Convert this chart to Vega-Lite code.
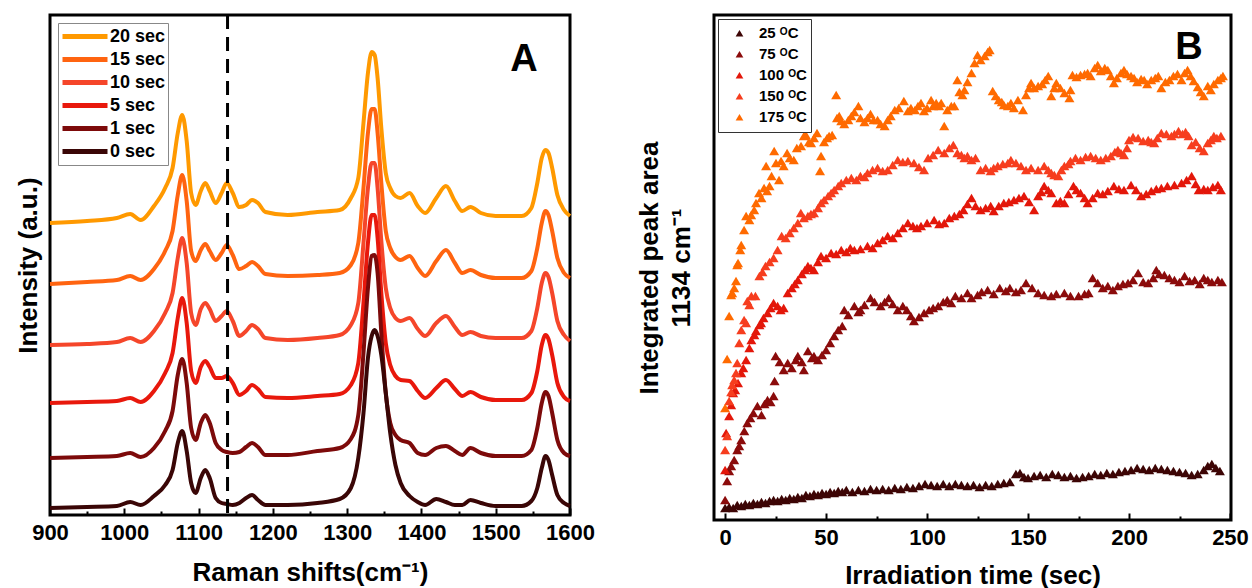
{
"$schema": "https://vega.github.io/schema/vega-lite/v6.json",
"background": "white",
"padding": {"left": 13, "top": 12, "right": 5, "bottom": 0},
"spacing": 38,
"resolve": {"scale": {"color": "independent"}, "legend": {"color": "independent"}},
"config": {
  "font": "Liberation Sans",
  "view": {"stroke": "black", "strokeWidth": 3},
  "axis": {"domain": false, "grid": false, "labelFlush": false, "labelFont": "Liberation Sans", "labelFontWeight": "bold", "labelFontSize": 22, "labelColor": "black", "titleFont": "Liberation Sans", "titleFontWeight": "bold", "titleFontSize": 26, "titleColor": "black", "tickColor": "black", "tickWidth": 2}
},
"datasets": {
"spec": [
{"s":"20 sec","w":900,"i":292},{"s":"20 sec","w":950,"i":294},{"s":"20 sec","w":990,"i":297},{"s":"20 sec","w":1008,"i":301},{"s":"20 sec","w":1022,"i":295},{"s":"20 sec","w":1040,"i":309},{"s":"20 sec","w":1055,"i":327},{"s":"20 sec","w":1065,"i":347},{"s":"20 sec","w":1072,"i":382},{"s":"20 sec","w":1078,"i":400},{"s":"20 sec","w":1084,"i":374},{"s":"20 sec","w":1090,"i":322},{"s":"20 sec","w":1096,"i":310},{"s":"20 sec","w":1103,"i":324},{"s":"20 sec","w":1109,"i":332},{"s":"20 sec","w":1115,"i":324},{"s":"20 sec","w":1123,"i":312},{"s":"20 sec","w":1131,"i":322},{"s":"20 sec","w":1138,"i":332},{"s":"20 sec","w":1146,"i":322},{"s":"20 sec","w":1155,"i":308},{"s":"20 sec","w":1164,"i":310},{"s":"20 sec","w":1172,"i":315},{"s":"20 sec","w":1180,"i":312},{"s":"20 sec","w":1190,"i":303},{"s":"20 sec","w":1220,"i":300},{"s":"20 sec","w":1260,"i":303},{"s":"20 sec","w":1290,"i":305},{"s":"20 sec","w":1305,"i":317},{"s":"20 sec","w":1315,"i":337},{"s":"20 sec","w":1322,"i":392},{"s":"20 sec","w":1328,"i":442},{"s":"20 sec","w":1333,"i":463},{"s":"20 sec","w":1337,"i":460},{"s":"20 sec","w":1341,"i":437},{"s":"20 sec","w":1346,"i":387},{"s":"20 sec","w":1352,"i":342},{"s":"20 sec","w":1358,"i":327},{"s":"20 sec","w":1365,"i":319},{"s":"20 sec","w":1372,"i":317},{"s":"20 sec","w":1384,"i":322},{"s":"20 sec","w":1395,"i":309},{"s":"20 sec","w":1405,"i":302},{"s":"20 sec","w":1420,"i":317},{"s":"20 sec","w":1433,"i":329},{"s":"20 sec","w":1445,"i":314},{"s":"20 sec","w":1455,"i":304},{"s":"20 sec","w":1466,"i":308},{"s":"20 sec","w":1480,"i":302},{"s":"20 sec","w":1500,"i":299},{"s":"20 sec","w":1535,"i":299},{"s":"20 sec","w":1548,"i":307},{"s":"20 sec","w":1556,"i":332},{"s":"20 sec","w":1562,"i":357},{"s":"20 sec","w":1567,"i":365},{"s":"20 sec","w":1571,"i":362},{"s":"20 sec","w":1576,"i":347},{"s":"20 sec","w":1583,"i":320},{"s":"20 sec","w":1592,"i":305},{"s":"20 sec","w":1600,"i":299},
{"s":"15 sec","w":900,"i":231},{"s":"15 sec","w":950,"i":233},{"s":"15 sec","w":990,"i":235},{"s":"15 sec","w":1008,"i":239},{"s":"15 sec","w":1022,"i":235},{"s":"15 sec","w":1040,"i":246},{"s":"15 sec","w":1055,"i":264},{"s":"15 sec","w":1065,"i":284},{"s":"15 sec","w":1072,"i":320},{"s":"15 sec","w":1078,"i":340},{"s":"15 sec","w":1084,"i":314},{"s":"15 sec","w":1090,"i":264},{"s":"15 sec","w":1096,"i":254},{"s":"15 sec","w":1103,"i":265},{"s":"15 sec","w":1109,"i":271},{"s":"15 sec","w":1115,"i":264},{"s":"15 sec","w":1123,"i":255},{"s":"15 sec","w":1131,"i":262},{"s":"15 sec","w":1138,"i":270},{"s":"15 sec","w":1146,"i":260},{"s":"15 sec","w":1155,"i":246},{"s":"15 sec","w":1164,"i":249},{"s":"15 sec","w":1172,"i":253},{"s":"15 sec","w":1180,"i":249},{"s":"15 sec","w":1190,"i":241},{"s":"15 sec","w":1220,"i":239},{"s":"15 sec","w":1260,"i":240},{"s":"15 sec","w":1290,"i":242},{"s":"15 sec","w":1305,"i":250},{"s":"15 sec","w":1315,"i":272},{"s":"15 sec","w":1322,"i":327},{"s":"15 sec","w":1328,"i":382},{"s":"15 sec","w":1333,"i":406},{"s":"15 sec","w":1337,"i":406},{"s":"15 sec","w":1341,"i":382},{"s":"15 sec","w":1346,"i":332},{"s":"15 sec","w":1352,"i":284},{"s":"15 sec","w":1358,"i":267},{"s":"15 sec","w":1365,"i":258},{"s":"15 sec","w":1372,"i":255},{"s":"15 sec","w":1384,"i":259},{"s":"15 sec","w":1395,"i":247},{"s":"15 sec","w":1405,"i":239},{"s":"15 sec","w":1420,"i":254},{"s":"15 sec","w":1433,"i":265},{"s":"15 sec","w":1445,"i":252},{"s":"15 sec","w":1455,"i":242},{"s":"15 sec","w":1466,"i":245},{"s":"15 sec","w":1480,"i":240},{"s":"15 sec","w":1500,"i":237},{"s":"15 sec","w":1535,"i":237},{"s":"15 sec","w":1548,"i":244},{"s":"15 sec","w":1556,"i":267},{"s":"15 sec","w":1562,"i":292},{"s":"15 sec","w":1567,"i":304},{"s":"15 sec","w":1571,"i":300},{"s":"15 sec","w":1576,"i":284},{"s":"15 sec","w":1583,"i":257},{"s":"15 sec","w":1592,"i":242},{"s":"15 sec","w":1600,"i":237},
{"s":"10 sec","w":900,"i":170},{"s":"10 sec","w":950,"i":171},{"s":"10 sec","w":990,"i":173},{"s":"10 sec","w":1008,"i":177},{"s":"10 sec","w":1022,"i":173},{"s":"10 sec","w":1040,"i":184},{"s":"10 sec","w":1055,"i":202},{"s":"10 sec","w":1065,"i":222},{"s":"10 sec","w":1072,"i":257},{"s":"10 sec","w":1078,"i":277},{"s":"10 sec","w":1084,"i":252},{"s":"10 sec","w":1090,"i":202},{"s":"10 sec","w":1096,"i":190},{"s":"10 sec","w":1103,"i":206},{"s":"10 sec","w":1109,"i":212},{"s":"10 sec","w":1115,"i":206},{"s":"10 sec","w":1123,"i":194},{"s":"10 sec","w":1131,"i":199},{"s":"10 sec","w":1138,"i":204},{"s":"10 sec","w":1146,"i":194},{"s":"10 sec","w":1155,"i":179},{"s":"10 sec","w":1164,"i":184},{"s":"10 sec","w":1172,"i":190},{"s":"10 sec","w":1180,"i":186},{"s":"10 sec","w":1190,"i":177},{"s":"10 sec","w":1220,"i":175},{"s":"10 sec","w":1260,"i":177},{"s":"10 sec","w":1290,"i":180},{"s":"10 sec","w":1305,"i":190},{"s":"10 sec","w":1315,"i":212},{"s":"10 sec","w":1322,"i":272},{"s":"10 sec","w":1328,"i":327},{"s":"10 sec","w":1333,"i":352},{"s":"10 sec","w":1337,"i":352},{"s":"10 sec","w":1341,"i":327},{"s":"10 sec","w":1346,"i":274},{"s":"10 sec","w":1352,"i":227},{"s":"10 sec","w":1358,"i":207},{"s":"10 sec","w":1365,"i":197},{"s":"10 sec","w":1372,"i":194},{"s":"10 sec","w":1384,"i":197},{"s":"10 sec","w":1395,"i":186},{"s":"10 sec","w":1405,"i":179},{"s":"10 sec","w":1420,"i":192},{"s":"10 sec","w":1433,"i":199},{"s":"10 sec","w":1445,"i":188},{"s":"10 sec","w":1455,"i":180},{"s":"10 sec","w":1466,"i":183},{"s":"10 sec","w":1480,"i":179},{"s":"10 sec","w":1500,"i":177},{"s":"10 sec","w":1535,"i":177},{"s":"10 sec","w":1548,"i":184},{"s":"10 sec","w":1556,"i":207},{"s":"10 sec","w":1562,"i":232},{"s":"10 sec","w":1567,"i":242},{"s":"10 sec","w":1571,"i":238},{"s":"10 sec","w":1576,"i":222},{"s":"10 sec","w":1583,"i":194},{"s":"10 sec","w":1592,"i":180},{"s":"10 sec","w":1600,"i":174},
{"s":"5 sec","w":900,"i":112},{"s":"5 sec","w":950,"i":113},{"s":"5 sec","w":990,"i":114},{"s":"5 sec","w":1008,"i":117},{"s":"5 sec","w":1022,"i":113},{"s":"5 sec","w":1040,"i":124},{"s":"5 sec","w":1055,"i":142},{"s":"5 sec","w":1065,"i":162},{"s":"5 sec","w":1072,"i":197},{"s":"5 sec","w":1078,"i":217},{"s":"5 sec","w":1084,"i":192},{"s":"5 sec","w":1090,"i":144},{"s":"5 sec","w":1096,"i":132},{"s":"5 sec","w":1103,"i":148},{"s":"5 sec","w":1109,"i":154},{"s":"5 sec","w":1115,"i":148},{"s":"5 sec","w":1123,"i":137},{"s":"5 sec","w":1131,"i":137},{"s":"5 sec","w":1138,"i":139},{"s":"5 sec","w":1146,"i":132},{"s":"5 sec","w":1155,"i":120},{"s":"5 sec","w":1164,"i":124},{"s":"5 sec","w":1172,"i":130},{"s":"5 sec","w":1180,"i":126},{"s":"5 sec","w":1190,"i":118},{"s":"5 sec","w":1220,"i":117},{"s":"5 sec","w":1260,"i":119},{"s":"5 sec","w":1290,"i":121},{"s":"5 sec","w":1305,"i":130},{"s":"5 sec","w":1315,"i":152},{"s":"5 sec","w":1322,"i":212},{"s":"5 sec","w":1328,"i":272},{"s":"5 sec","w":1333,"i":300},{"s":"5 sec","w":1337,"i":300},{"s":"5 sec","w":1341,"i":277},{"s":"5 sec","w":1346,"i":222},{"s":"5 sec","w":1352,"i":172},{"s":"5 sec","w":1358,"i":150},{"s":"5 sec","w":1365,"i":139},{"s":"5 sec","w":1372,"i":135},{"s":"5 sec","w":1384,"i":134},{"s":"5 sec","w":1395,"i":124},{"s":"5 sec","w":1405,"i":117},{"s":"5 sec","w":1420,"i":127},{"s":"5 sec","w":1433,"i":135},{"s":"5 sec","w":1445,"i":126},{"s":"5 sec","w":1455,"i":119},{"s":"5 sec","w":1466,"i":123},{"s":"5 sec","w":1480,"i":118},{"s":"5 sec","w":1500,"i":115},{"s":"5 sec","w":1535,"i":115},{"s":"5 sec","w":1548,"i":122},{"s":"5 sec","w":1556,"i":144},{"s":"5 sec","w":1562,"i":170},{"s":"5 sec","w":1567,"i":180},{"s":"5 sec","w":1571,"i":176},{"s":"5 sec","w":1576,"i":160},{"s":"5 sec","w":1583,"i":132},{"s":"5 sec","w":1592,"i":118},{"s":"5 sec","w":1600,"i":114},
{"s":"1 sec","w":900,"i":57},{"s":"1 sec","w":950,"i":58},{"s":"1 sec","w":990,"i":59},{"s":"1 sec","w":1008,"i":62},{"s":"1 sec","w":1022,"i":58},{"s":"1 sec","w":1040,"i":67},{"s":"1 sec","w":1055,"i":84},{"s":"1 sec","w":1065,"i":104},{"s":"1 sec","w":1072,"i":140},{"s":"1 sec","w":1078,"i":156},{"s":"1 sec","w":1084,"i":132},{"s":"1 sec","w":1090,"i":87},{"s":"1 sec","w":1096,"i":75},{"s":"1 sec","w":1103,"i":92},{"s":"1 sec","w":1109,"i":100},{"s":"1 sec","w":1115,"i":92},{"s":"1 sec","w":1123,"i":72},{"s":"1 sec","w":1131,"i":65},{"s":"1 sec","w":1138,"i":63},{"s":"1 sec","w":1146,"i":62},{"s":"1 sec","w":1155,"i":63},{"s":"1 sec","w":1164,"i":68},{"s":"1 sec","w":1172,"i":72},{"s":"1 sec","w":1180,"i":68},{"s":"1 sec","w":1190,"i":60},{"s":"1 sec","w":1220,"i":60},{"s":"1 sec","w":1260,"i":64},{"s":"1 sec","w":1290,"i":67},{"s":"1 sec","w":1305,"i":76},{"s":"1 sec","w":1315,"i":100},{"s":"1 sec","w":1322,"i":162},{"s":"1 sec","w":1328,"i":227},{"s":"1 sec","w":1333,"i":259},{"s":"1 sec","w":1337,"i":260},{"s":"1 sec","w":1341,"i":242},{"s":"1 sec","w":1346,"i":182},{"s":"1 sec","w":1352,"i":122},{"s":"1 sec","w":1358,"i":92},{"s":"1 sec","w":1365,"i":80},{"s":"1 sec","w":1372,"i":75},{"s":"1 sec","w":1384,"i":72},{"s":"1 sec","w":1395,"i":62},{"s":"1 sec","w":1405,"i":60},{"s":"1 sec","w":1420,"i":67},{"s":"1 sec","w":1433,"i":69},{"s":"1 sec","w":1445,"i":64},{"s":"1 sec","w":1455,"i":60},{"s":"1 sec","w":1466,"i":67},{"s":"1 sec","w":1480,"i":62},{"s":"1 sec","w":1500,"i":59},{"s":"1 sec","w":1535,"i":59},{"s":"1 sec","w":1548,"i":65},{"s":"1 sec","w":1556,"i":87},{"s":"1 sec","w":1562,"i":112},{"s":"1 sec","w":1567,"i":123},{"s":"1 sec","w":1571,"i":119},{"s":"1 sec","w":1576,"i":102},{"s":"1 sec","w":1583,"i":75},{"s":"1 sec","w":1592,"i":62},{"s":"1 sec","w":1600,"i":59},
{"s":"0 sec","w":900,"i":7},{"s":"0 sec","w":950,"i":8},{"s":"0 sec","w":990,"i":9},{"s":"0 sec","w":1008,"i":13},{"s":"0 sec","w":1022,"i":10},{"s":"0 sec","w":1040,"i":19},{"s":"0 sec","w":1055,"i":30},{"s":"0 sec","w":1065,"i":45},{"s":"0 sec","w":1072,"i":72},{"s":"0 sec","w":1078,"i":84},{"s":"0 sec","w":1084,"i":64},{"s":"0 sec","w":1090,"i":32},{"s":"0 sec","w":1096,"i":22},{"s":"0 sec","w":1103,"i":37},{"s":"0 sec","w":1109,"i":45},{"s":"0 sec","w":1115,"i":37},{"s":"0 sec","w":1123,"i":17},{"s":"0 sec","w":1131,"i":12},{"s":"0 sec","w":1138,"i":11},{"s":"0 sec","w":1146,"i":10},{"s":"0 sec","w":1155,"i":12},{"s":"0 sec","w":1164,"i":17},{"s":"0 sec","w":1172,"i":20},{"s":"0 sec","w":1180,"i":15},{"s":"0 sec","w":1190,"i":10},{"s":"0 sec","w":1220,"i":10},{"s":"0 sec","w":1260,"i":12},{"s":"0 sec","w":1290,"i":16},{"s":"0 sec","w":1305,"i":27},{"s":"0 sec","w":1315,"i":57},{"s":"0 sec","w":1322,"i":102},{"s":"0 sec","w":1328,"i":157},{"s":"0 sec","w":1333,"i":179},{"s":"0 sec","w":1337,"i":185},{"s":"0 sec","w":1341,"i":179},{"s":"0 sec","w":1346,"i":160},{"s":"0 sec","w":1352,"i":122},{"s":"0 sec","w":1358,"i":82},{"s":"0 sec","w":1365,"i":50},{"s":"0 sec","w":1372,"i":32},{"s":"0 sec","w":1384,"i":19},{"s":"0 sec","w":1395,"i":13},{"s":"0 sec","w":1405,"i":10},{"s":"0 sec","w":1420,"i":16},{"s":"0 sec","w":1433,"i":13},{"s":"0 sec","w":1445,"i":10},{"s":"0 sec","w":1455,"i":10},{"s":"0 sec","w":1466,"i":15},{"s":"0 sec","w":1480,"i":12},{"s":"0 sec","w":1500,"i":9},{"s":"0 sec","w":1535,"i":9},{"s":"0 sec","w":1548,"i":14},{"s":"0 sec","w":1556,"i":27},{"s":"0 sec","w":1562,"i":47},{"s":"0 sec","w":1567,"i":59},{"s":"0 sec","w":1571,"i":55},{"s":"0 sec","w":1576,"i":40},{"s":"0 sec","w":1583,"i":20},{"s":"0 sec","w":1592,"i":12},{"s":"0 sec","w":1600,"i":9}
],
"pts": [
{"s":"25 ᴼC","t":0,"v":12},{"s":"25 ᴼC","t":2,"v":13},{"s":"25 ᴼC","t":4,"v":12},{"s":"25 ᴼC","t":6,"v":15},{"s":"25 ᴼC","t":8,"v":14},{"s":"25 ᴼC","t":10,"v":16},{"s":"25 ᴼC","t":12,"v":15},{"s":"25 ᴼC","t":14,"v":17},{"s":"25 ᴼC","t":16,"v":16},{"s":"25 ᴼC","t":18,"v":18},{"s":"25 ᴼC","t":20,"v":17},{"s":"25 ᴼC","t":22,"v":19},{"s":"25 ᴼC","t":24,"v":20},{"s":"25 ᴼC","t":26,"v":19},{"s":"25 ᴼC","t":28,"v":21},{"s":"25 ᴼC","t":30,"v":20},{"s":"25 ᴼC","t":32,"v":22},{"s":"25 ᴼC","t":34,"v":21},{"s":"25 ᴼC","t":36,"v":23},{"s":"25 ᴼC","t":38,"v":22},{"s":"25 ᴼC","t":40,"v":25},{"s":"25 ᴼC","t":42,"v":24},{"s":"25 ᴼC","t":44,"v":26},{"s":"25 ᴼC","t":46,"v":25},{"s":"25 ᴼC","t":48,"v":27},{"s":"25 ᴼC","t":50,"v":26},{"s":"25 ᴼC","t":52,"v":28},{"s":"25 ᴼC","t":54,"v":27},{"s":"25 ᴼC","t":56,"v":29},{"s":"25 ᴼC","t":58,"v":28},{"s":"25 ᴼC","t":60,"v":30},{"s":"25 ᴼC","t":63,"v":28},{"s":"25 ᴼC","t":66,"v":30},{"s":"25 ᴼC","t":69,"v":29},{"s":"25 ᴼC","t":72,"v":31},{"s":"25 ᴼC","t":75,"v":30},{"s":"25 ᴼC","t":78,"v":31},{"s":"25 ᴼC","t":81,"v":30},{"s":"25 ᴼC","t":84,"v":32},{"s":"25 ᴼC","t":87,"v":31},{"s":"25 ᴼC","t":90,"v":33},{"s":"25 ᴼC","t":93,"v":32},{"s":"25 ᴼC","t":96,"v":34},{"s":"25 ᴼC","t":99,"v":36},{"s":"25 ᴼC","t":102,"v":35},{"s":"25 ᴼC","t":105,"v":34},{"s":"25 ᴼC","t":108,"v":36},{"s":"25 ᴼC","t":111,"v":34},{"s":"25 ᴼC","t":114,"v":36},{"s":"25 ᴼC","t":117,"v":35},{"s":"25 ᴼC","t":120,"v":34},{"s":"25 ᴼC","t":123,"v":35},{"s":"25 ᴼC","t":126,"v":33},{"s":"25 ᴼC","t":129,"v":35},{"s":"25 ᴼC","t":132,"v":34},{"s":"25 ᴼC","t":135,"v":36},{"s":"25 ᴼC","t":138,"v":37},{"s":"25 ᴼC","t":141,"v":38},{"s":"25 ᴼC","t":144,"v":46},{"s":"25 ᴼC","t":146,"v":47},{"s":"25 ᴼC","t":148,"v":43},{"s":"25 ᴼC","t":150,"v":42},{"s":"25 ᴼC","t":153,"v":44},{"s":"25 ᴼC","t":156,"v":45},{"s":"25 ᴼC","t":159,"v":43},{"s":"25 ᴼC","t":162,"v":46},{"s":"25 ᴼC","t":165,"v":45},{"s":"25 ᴼC","t":168,"v":43},{"s":"25 ᴼC","t":171,"v":44},{"s":"25 ᴼC","t":174,"v":42},{"s":"25 ᴼC","t":177,"v":43},{"s":"25 ᴼC","t":180,"v":44},{"s":"25 ᴼC","t":183,"v":46},{"s":"25 ᴼC","t":186,"v":45},{"s":"25 ᴼC","t":189,"v":47},{"s":"25 ᴼC","t":192,"v":46},{"s":"25 ᴼC","t":195,"v":48},{"s":"25 ᴼC","t":198,"v":49},{"s":"25 ᴼC","t":201,"v":50},{"s":"25 ᴼC","t":204,"v":52},{"s":"25 ᴼC","t":207,"v":51},{"s":"25 ᴼC","t":210,"v":50},{"s":"25 ᴼC","t":213,"v":52},{"s":"25 ᴼC","t":216,"v":51},{"s":"25 ᴼC","t":219,"v":50},{"s":"25 ᴼC","t":222,"v":49},{"s":"25 ᴼC","t":225,"v":48},{"s":"25 ᴼC","t":228,"v":47},{"s":"25 ᴼC","t":231,"v":45},{"s":"25 ᴼC","t":234,"v":46},{"s":"25 ᴼC","t":237,"v":50},{"s":"25 ᴼC","t":239,"v":54},{"s":"25 ᴼC","t":241,"v":56},{"s":"25 ᴼC","t":243,"v":52},{"s":"25 ᴼC","t":245,"v":49},
{"s":"75 ᴼC","t":0,"v":20},{"s":"75 ᴼC","t":1,"v":39},{"s":"75 ᴼC","t":2,"v":49},{"s":"75 ᴼC","t":3,"v":54},{"s":"75 ᴼC","t":4.5,"v":60},{"s":"75 ᴼC","t":6,"v":70},{"s":"75 ᴼC","t":7,"v":74},{"s":"75 ᴼC","t":8,"v":80},{"s":"75 ᴼC","t":9.5,"v":89},{"s":"75 ᴼC","t":11,"v":97},{"s":"75 ᴼC","t":12.5,"v":102},{"s":"75 ᴼC","t":14,"v":107},{"s":"75 ᴼC","t":16,"v":114},{"s":"75 ᴼC","t":18,"v":105},{"s":"75 ᴼC","t":19.5,"v":116},{"s":"75 ᴼC","t":21,"v":120},{"s":"75 ᴼC","t":22.5,"v":118},{"s":"75 ᴼC","t":24,"v":124},{"s":"75 ᴼC","t":24.5,"v":139},{"s":"75 ᴼC","t":25,"v":164},{"s":"75 ᴼC","t":27,"v":158},{"s":"75 ᴼC","t":29,"v":150},{"s":"75 ᴼC","t":31,"v":157},{"s":"75 ᴼC","t":33,"v":152},{"s":"75 ᴼC","t":35,"v":160},{"s":"75 ᴼC","t":36,"v":164},{"s":"75 ᴼC","t":38,"v":158},{"s":"75 ᴼC","t":39,"v":150},{"s":"75 ᴼC","t":41,"v":169},{"s":"75 ᴼC","t":43,"v":162},{"s":"75 ᴼC","t":44,"v":164},{"s":"75 ᴼC","t":46,"v":160},{"s":"75 ᴼC","t":48,"v":165},{"s":"75 ᴼC","t":50,"v":170},{"s":"75 ᴼC","t":52,"v":177},{"s":"75 ᴼC","t":54,"v":184},{"s":"75 ᴼC","t":56,"v":190},{"s":"75 ᴼC","t":58,"v":194},{"s":"75 ᴼC","t":59,"v":210},{"s":"75 ᴼC","t":61,"v":205},{"s":"75 ᴼC","t":64,"v":214},{"s":"75 ᴼC","t":66,"v":208},{"s":"75 ᴼC","t":67,"v":210},{"s":"75 ᴼC","t":69,"v":215},{"s":"75 ᴼC","t":72,"v":222},{"s":"75 ᴼC","t":74,"v":218},{"s":"75 ᴼC","t":77,"v":214},{"s":"75 ᴼC","t":79,"v":218},{"s":"75 ᴼC","t":81,"v":222},{"s":"75 ᴼC","t":83,"v":216},{"s":"75 ᴼC","t":85.5,"v":210},{"s":"75 ᴼC","t":88,"v":214},{"s":"75 ᴼC","t":90,"v":210},{"s":"75 ᴼC","t":92,"v":204},{"s":"75 ᴼC","t":93.5,"v":199},{"s":"75 ᴼC","t":96,"v":203},{"s":"75 ᴼC","t":98.5,"v":207},{"s":"75 ᴼC","t":101,"v":210},{"s":"75 ᴼC","t":103,"v":212},{"s":"75 ᴼC","t":105.5,"v":214},{"s":"75 ᴼC","t":108,"v":218},{"s":"75 ᴼC","t":110,"v":220},{"s":"75 ᴼC","t":112,"v":217},{"s":"75 ᴼC","t":114,"v":224},{"s":"75 ᴼC","t":117,"v":222},{"s":"75 ᴼC","t":120,"v":227},{"s":"75 ᴼC","t":122,"v":222},{"s":"75 ᴼC","t":125,"v":225},{"s":"75 ᴼC","t":127,"v":228},{"s":"75 ᴼC","t":130,"v":230},{"s":"75 ᴼC","t":133,"v":226},{"s":"75 ᴼC","t":136,"v":232},{"s":"75 ᴼC","t":139,"v":229},{"s":"75 ᴼC","t":141,"v":232},{"s":"75 ᴼC","t":144,"v":228},{"s":"75 ᴼC","t":146.5,"v":230},{"s":"75 ᴼC","t":149,"v":237},{"s":"75 ᴼC","t":152,"v":232},{"s":"75 ᴼC","t":155,"v":227},{"s":"75 ᴼC","t":158,"v":225},{"s":"75 ᴼC","t":161.5,"v":224},{"s":"75 ᴼC","t":164,"v":226},{"s":"75 ᴼC","t":168,"v":227},{"s":"75 ᴼC","t":171,"v":224},{"s":"75 ᴼC","t":175,"v":224},{"s":"75 ᴼC","t":178,"v":226},{"s":"75 ᴼC","t":180,"v":227},{"s":"75 ᴼC","t":182,"v":242},{"s":"75 ᴼC","t":184.5,"v":237},{"s":"75 ᴼC","t":187,"v":232},{"s":"75 ᴼC","t":189.5,"v":234},{"s":"75 ᴼC","t":192,"v":230},{"s":"75 ᴼC","t":194.5,"v":234},{"s":"75 ᴼC","t":197,"v":236},{"s":"75 ᴼC","t":199.5,"v":237},{"s":"75 ᴼC","t":202,"v":240},{"s":"75 ᴼC","t":204.5,"v":247},{"s":"75 ᴼC","t":207,"v":238},{"s":"75 ᴼC","t":209.5,"v":237},{"s":"75 ᴼC","t":212,"v":242},{"s":"75 ᴼC","t":213.5,"v":250},{"s":"75 ᴼC","t":215,"v":246},{"s":"75 ᴼC","t":217.5,"v":245},{"s":"75 ᴼC","t":220,"v":242},{"s":"75 ᴼC","t":222.5,"v":240},{"s":"75 ᴼC","t":225,"v":238},{"s":"75 ᴼC","t":227.5,"v":244},{"s":"75 ᴼC","t":230,"v":239},{"s":"75 ᴼC","t":232.5,"v":240},{"s":"75 ᴼC","t":235,"v":236},{"s":"75 ᴼC","t":237,"v":242},{"s":"75 ᴼC","t":239,"v":240},{"s":"75 ᴼC","t":241,"v":238},{"s":"75 ᴼC","t":244,"v":240},{"s":"75 ᴼC","t":246,"v":238},
{"s":"100 ᴼC","t":0,"v":50},{"s":"100 ᴼC","t":0.5,"v":87},{"s":"100 ᴼC","t":2,"v":104},{"s":"100 ᴼC","t":3,"v":115},{"s":"100 ᴼC","t":4,"v":127},{"s":"100 ᴼC","t":5,"v":130},{"s":"100 ᴼC","t":6.4,"v":137},{"s":"100 ᴼC","t":8,"v":147},{"s":"100 ᴼC","t":9,"v":152},{"s":"100 ᴼC","t":10.4,"v":160},{"s":"100 ᴼC","t":12,"v":172},{"s":"100 ᴼC","t":13,"v":180},{"s":"100 ᴼC","t":14.5,"v":185},{"s":"100 ᴼC","t":15.3,"v":189},{"s":"100 ᴼC","t":17,"v":195},{"s":"100 ᴼC","t":17.8,"v":197},{"s":"100 ᴼC","t":19,"v":202},{"s":"100 ᴼC","t":21,"v":207},{"s":"100 ᴼC","t":22.5,"v":212},{"s":"100 ᴼC","t":24,"v":217},{"s":"100 ᴼC","t":26,"v":214},{"s":"100 ᴼC","t":27.5,"v":210},{"s":"100 ᴼC","t":29,"v":212},{"s":"100 ᴼC","t":31,"v":227},{"s":"100 ᴼC","t":33,"v":232},{"s":"100 ᴼC","t":34.5,"v":236},{"s":"100 ᴼC","t":36,"v":240},{"s":"100 ᴼC","t":38,"v":246},{"s":"100 ᴼC","t":39.5,"v":250},{"s":"100 ᴼC","t":41,"v":254},{"s":"100 ᴼC","t":42.5,"v":252},{"s":"100 ᴼC","t":44,"v":250},{"s":"100 ᴼC","t":46,"v":258},{"s":"100 ᴼC","t":47.5,"v":264},{"s":"100 ᴼC","t":50,"v":262},{"s":"100 ᴼC","t":52.5,"v":267},{"s":"100 ᴼC","t":55,"v":266},{"s":"100 ᴼC","t":57.5,"v":270},{"s":"100 ᴼC","t":60,"v":268},{"s":"100 ᴼC","t":62,"v":272},{"s":"100 ᴼC","t":64,"v":270},{"s":"100 ᴼC","t":67,"v":271},{"s":"100 ᴼC","t":70.5,"v":274},{"s":"100 ᴼC","t":73,"v":272},{"s":"100 ᴼC","t":75.5,"v":277},{"s":"100 ᴼC","t":78,"v":280},{"s":"100 ᴼC","t":80.5,"v":284},{"s":"100 ᴼC","t":83,"v":282},{"s":"100 ᴼC","t":85.5,"v":287},{"s":"100 ᴼC","t":88,"v":292},{"s":"100 ᴼC","t":90.5,"v":297},{"s":"100 ᴼC","t":93,"v":294},{"s":"100 ᴼC","t":95,"v":292},{"s":"100 ᴼC","t":97,"v":294},{"s":"100 ᴼC","t":100,"v":297},{"s":"100 ᴼC","t":103.5,"v":300},{"s":"100 ᴼC","t":106,"v":296},{"s":"100 ᴼC","t":108.5,"v":297},{"s":"100 ᴼC","t":111,"v":302},{"s":"100 ᴼC","t":113.5,"v":304},{"s":"100 ᴼC","t":116,"v":306},{"s":"100 ᴼC","t":118,"v":310},{"s":"100 ᴼC","t":120,"v":316},{"s":"100 ᴼC","t":122,"v":322},{"s":"100 ᴼC","t":124,"v":314},{"s":"100 ᴼC","t":126.5,"v":310},{"s":"100 ᴼC","t":129,"v":312},{"s":"100 ᴼC","t":131.5,"v":314},{"s":"100 ᴼC","t":133,"v":309},{"s":"100 ᴼC","t":135.5,"v":314},{"s":"100 ᴼC","t":138,"v":317},{"s":"100 ᴼC","t":140.5,"v":318},{"s":"100 ᴼC","t":143,"v":320},{"s":"100 ᴼC","t":145.5,"v":322},{"s":"100 ᴼC","t":148,"v":324},{"s":"100 ᴼC","t":150.5,"v":318},{"s":"100 ᴼC","t":153,"v":310},{"s":"100 ᴼC","t":155,"v":324},{"s":"100 ᴼC","t":156.5,"v":328},{"s":"100 ᴼC","t":158,"v":334},{"s":"100 ᴼC","t":160,"v":330},{"s":"100 ᴼC","t":161.5,"v":327},{"s":"100 ᴼC","t":164,"v":317},{"s":"100 ᴼC","t":166,"v":319},{"s":"100 ᴼC","t":168,"v":317},{"s":"100 ᴼC","t":170,"v":326},{"s":"100 ᴼC","t":172.5,"v":334},{"s":"100 ᴼC","t":174,"v":330},{"s":"100 ᴼC","t":176,"v":327},{"s":"100 ᴼC","t":178,"v":322},{"s":"100 ᴼC","t":179.5,"v":317},{"s":"100 ᴼC","t":182,"v":322},{"s":"100 ᴼC","t":184.5,"v":327},{"s":"100 ᴼC","t":187,"v":326},{"s":"100 ᴼC","t":189.5,"v":329},{"s":"100 ᴼC","t":192.5,"v":334},{"s":"100 ᴼC","t":195,"v":331},{"s":"100 ᴼC","t":197.5,"v":330},{"s":"100 ᴼC","t":201,"v":335},{"s":"100 ᴼC","t":203.5,"v":330},{"s":"100 ᴼC","t":206,"v":324},{"s":"100 ᴼC","t":208.5,"v":326},{"s":"100 ᴼC","t":211,"v":329},{"s":"100 ᴼC","t":213.5,"v":331},{"s":"100 ᴼC","t":216,"v":332},{"s":"100 ᴼC","t":219,"v":334},{"s":"100 ᴼC","t":222.5,"v":335},{"s":"100 ᴼC","t":226,"v":337},{"s":"100 ᴼC","t":228.5,"v":340},{"s":"100 ᴼC","t":231,"v":344},{"s":"100 ᴼC","t":233,"v":336},{"s":"100 ᴼC","t":234.5,"v":330},{"s":"100 ᴼC","t":237,"v":331},{"s":"100 ᴼC","t":239,"v":330},{"s":"100 ᴼC","t":241.5,"v":333},{"s":"100 ᴼC","t":244,"v":335},{"s":"100 ᴼC","t":245.5,"v":330},
{"s":"150 ᴼC","t":0,"v":70},{"s":"150 ᴼC","t":1,"v":84},{"s":"150 ᴼC","t":2,"v":119},{"s":"150 ᴼC","t":3,"v":128},{"s":"150 ᴼC","t":3.5,"v":135},{"s":"150 ᴼC","t":4.5,"v":140},{"s":"150 ᴼC","t":5.4,"v":147},{"s":"150 ᴼC","t":6,"v":157},{"s":"150 ᴼC","t":7,"v":177},{"s":"150 ᴼC","t":8,"v":190},{"s":"150 ᴼC","t":9.4,"v":200},{"s":"150 ᴼC","t":10.4,"v":197},{"s":"150 ᴼC","t":11,"v":219},{"s":"150 ᴼC","t":12,"v":215},{"s":"150 ᴼC","t":13,"v":224},{"s":"150 ᴼC","t":15,"v":224},{"s":"150 ᴼC","t":17,"v":244},{"s":"150 ᴼC","t":18.5,"v":248},{"s":"150 ᴼC","t":20,"v":254},{"s":"150 ᴼC","t":22,"v":258},{"s":"150 ᴼC","t":24,"v":262},{"s":"150 ᴼC","t":26,"v":270},{"s":"150 ᴼC","t":28,"v":284},{"s":"150 ᴼC","t":30,"v":282},{"s":"150 ᴼC","t":32,"v":287},{"s":"150 ᴼC","t":34,"v":292},{"s":"150 ᴼC","t":36,"v":297},{"s":"150 ᴼC","t":37.5,"v":307},{"s":"150 ᴼC","t":39,"v":302},{"s":"150 ᴼC","t":41,"v":304},{"s":"150 ᴼC","t":42.5,"v":306},{"s":"150 ᴼC","t":44,"v":307},{"s":"150 ᴼC","t":46,"v":312},{"s":"150 ᴼC","t":47.5,"v":317},{"s":"150 ᴼC","t":49,"v":320},{"s":"150 ᴼC","t":51,"v":324},{"s":"150 ᴼC","t":52.5,"v":327},{"s":"150 ᴼC","t":54,"v":330},{"s":"150 ᴼC","t":56,"v":334},{"s":"150 ᴼC","t":57.5,"v":337},{"s":"150 ᴼC","t":60,"v":340},{"s":"150 ᴼC","t":62.5,"v":342},{"s":"150 ᴼC","t":65,"v":340},{"s":"150 ᴼC","t":67,"v":344},{"s":"150 ᴼC","t":69,"v":343},{"s":"150 ᴼC","t":70.5,"v":347},{"s":"150 ᴼC","t":73,"v":350},{"s":"150 ᴼC","t":75.5,"v":352},{"s":"150 ᴼC","t":78,"v":349},{"s":"150 ᴼC","t":80.5,"v":350},{"s":"150 ᴼC","t":83,"v":355},{"s":"150 ᴼC","t":85.5,"v":360},{"s":"150 ᴼC","t":88,"v":358},{"s":"150 ᴼC","t":90.5,"v":359},{"s":"150 ᴼC","t":93.5,"v":357},{"s":"150 ᴼC","t":96,"v":353},{"s":"150 ᴼC","t":98.5,"v":350},{"s":"150 ᴼC","t":100.5,"v":362},{"s":"150 ᴼC","t":103,"v":365},{"s":"150 ᴼC","t":105.5,"v":370},{"s":"150 ᴼC","t":108.5,"v":367},{"s":"150 ᴼC","t":111,"v":372},{"s":"150 ᴼC","t":113,"v":375},{"s":"150 ᴼC","t":115,"v":367},{"s":"150 ᴼC","t":117,"v":365},{"s":"150 ᴼC","t":118.5,"v":362},{"s":"150 ᴼC","t":120,"v":364},{"s":"150 ᴼC","t":122,"v":360},{"s":"150 ᴼC","t":124,"v":362},{"s":"150 ᴼC","t":126.5,"v":350},{"s":"150 ᴼC","t":129,"v":352},{"s":"150 ᴼC","t":131.5,"v":349},{"s":"150 ᴼC","t":133,"v":352},{"s":"150 ᴼC","t":135,"v":354},{"s":"150 ᴼC","t":137.5,"v":356},{"s":"150 ᴼC","t":140,"v":357},{"s":"150 ᴼC","t":141.5,"v":360},{"s":"150 ᴼC","t":144,"v":357},{"s":"150 ᴼC","t":146.5,"v":354},{"s":"150 ᴼC","t":149,"v":350},{"s":"150 ᴼC","t":151.5,"v":352},{"s":"150 ᴼC","t":155,"v":350},{"s":"150 ᴼC","t":158,"v":354},{"s":"150 ᴼC","t":160,"v":350},{"s":"150 ᴼC","t":161.5,"v":347},{"s":"150 ᴼC","t":163,"v":345},{"s":"150 ᴼC","t":165,"v":344},{"s":"150 ᴼC","t":166.5,"v":350},{"s":"150 ᴼC","t":168,"v":354},{"s":"150 ᴼC","t":170,"v":356},{"s":"150 ᴼC","t":171,"v":359},{"s":"150 ᴼC","t":173.5,"v":362},{"s":"150 ᴼC","t":176,"v":360},{"s":"150 ᴼC","t":178.5,"v":363},{"s":"150 ᴼC","t":181,"v":364},{"s":"150 ᴼC","t":183.5,"v":362},{"s":"150 ᴼC","t":186,"v":360},{"s":"150 ᴼC","t":188.5,"v":362},{"s":"150 ᴼC","t":191,"v":364},{"s":"150 ᴼC","t":193,"v":368},{"s":"150 ᴼC","t":194.5,"v":370},{"s":"150 ᴼC","t":196,"v":367},{"s":"150 ᴼC","t":197.5,"v":365},{"s":"150 ᴼC","t":199,"v":372},{"s":"150 ᴼC","t":200,"v":380},{"s":"150 ᴼC","t":202,"v":383},{"s":"150 ᴼC","t":204.5,"v":382},{"s":"150 ᴼC","t":207,"v":379},{"s":"150 ᴼC","t":209.5,"v":380},{"s":"150 ᴼC","t":211,"v":378},{"s":"150 ᴼC","t":212.5,"v":377},{"s":"150 ᴼC","t":214,"v":382},{"s":"150 ᴼC","t":216,"v":387},{"s":"150 ᴼC","t":218.5,"v":386},{"s":"150 ᴼC","t":221,"v":384},{"s":"150 ᴼC","t":222.5,"v":386},{"s":"150 ᴼC","t":224.5,"v":389},{"s":"150 ᴼC","t":226.5,"v":386},{"s":"150 ᴼC","t":228,"v":388},{"s":"150 ᴼC","t":229.5,"v":384},{"s":"150 ᴼC","t":231,"v":375},{"s":"150 ᴼC","t":233,"v":378},{"s":"150 ᴼC","t":235,"v":372},{"s":"150 ᴼC","t":237,"v":369},{"s":"150 ᴼC","t":239,"v":377},{"s":"150 ᴼC","t":240.5,"v":380},{"s":"150 ᴼC","t":242,"v":384},{"s":"150 ᴼC","t":243.5,"v":382},{"s":"150 ᴼC","t":245.5,"v":384},
{"s":"175 ᴼC","t":0,"v":112},{"s":"175 ᴼC","t":1,"v":161},{"s":"175 ᴼC","t":2,"v":204},{"s":"175 ᴼC","t":3,"v":225},{"s":"175 ᴼC","t":3.5,"v":227},{"s":"175 ᴼC","t":4.5,"v":232},{"s":"175 ᴼC","t":5.4,"v":239},{"s":"175 ᴼC","t":6,"v":255},{"s":"175 ᴼC","t":6.4,"v":257},{"s":"175 ᴼC","t":7.5,"v":270},{"s":"175 ᴼC","t":8,"v":275},{"s":"175 ᴼC","t":9.4,"v":290},{"s":"175 ᴼC","t":10.4,"v":304},{"s":"175 ᴼC","t":12,"v":300},{"s":"175 ᴼC","t":12.9,"v":305},{"s":"175 ᴼC","t":14.4,"v":310},{"s":"175 ᴼC","t":15.3,"v":317},{"s":"175 ᴼC","t":16.8,"v":327},{"s":"175 ᴼC","t":18,"v":322},{"s":"175 ᴼC","t":19.3,"v":332},{"s":"175 ᴼC","t":20.3,"v":354},{"s":"175 ᴼC","t":20.8,"v":329},{"s":"175 ᴼC","t":22,"v":334},{"s":"175 ᴼC","t":23,"v":344},{"s":"175 ᴼC","t":24.3,"v":369},{"s":"175 ᴼC","t":25.2,"v":357},{"s":"175 ᴼC","t":26.7,"v":340},{"s":"175 ᴼC","t":27.7,"v":359},{"s":"175 ᴼC","t":29,"v":354},{"s":"175 ᴼC","t":30.7,"v":367},{"s":"175 ᴼC","t":32,"v":362},{"s":"175 ᴼC","t":34,"v":360},{"s":"175 ᴼC","t":35.5,"v":372},{"s":"175 ᴼC","t":37.6,"v":374},{"s":"175 ᴼC","t":39,"v":384},{"s":"175 ᴼC","t":40,"v":385},{"s":"175 ᴼC","t":41.5,"v":378},{"s":"175 ᴼC","t":42.6,"v":377},{"s":"175 ᴼC","t":44,"v":382},{"s":"175 ᴼC","t":45.5,"v":387},{"s":"175 ᴼC","t":47,"v":349},{"s":"175 ᴼC","t":47.5,"v":364},{"s":"175 ᴼC","t":49,"v":378},{"s":"175 ᴼC","t":50.5,"v":382},{"s":"175 ᴼC","t":51.5,"v":384},{"s":"175 ᴼC","t":53,"v":385},{"s":"175 ᴼC","t":55,"v":425},{"s":"175 ᴼC","t":55.4,"v":402},{"s":"175 ᴼC","t":56.5,"v":404},{"s":"175 ᴼC","t":57.5,"v":399},{"s":"175 ᴼC","t":59,"v":396},{"s":"175 ᴼC","t":61,"v":400},{"s":"175 ᴼC","t":62.5,"v":404},{"s":"175 ᴼC","t":64,"v":408},{"s":"175 ᴼC","t":66,"v":414},{"s":"175 ᴼC","t":67,"v":402},{"s":"175 ᴼC","t":69,"v":398},{"s":"175 ᴼC","t":70.5,"v":402},{"s":"175 ᴼC","t":72,"v":406},{"s":"175 ᴼC","t":73.5,"v":400},{"s":"175 ᴼC","t":75.5,"v":400},{"s":"175 ᴼC","t":77,"v":396},{"s":"175 ᴼC","t":79,"v":394},{"s":"175 ᴼC","t":80.5,"v":400},{"s":"175 ᴼC","t":82,"v":404},{"s":"175 ᴼC","t":84,"v":410},{"s":"175 ᴼC","t":86,"v":412},{"s":"175 ᴼC","t":88.5,"v":419},{"s":"175 ᴼC","t":90.5,"v":409},{"s":"175 ᴼC","t":92,"v":412},{"s":"175 ᴼC","t":94,"v":410},{"s":"175 ᴼC","t":95.5,"v":414},{"s":"175 ᴼC","t":97,"v":417},{"s":"175 ᴼC","t":98.5,"v":409},{"s":"175 ᴼC","t":100,"v":412},{"s":"175 ᴼC","t":102,"v":420},{"s":"175 ᴼC","t":103,"v":414},{"s":"175 ᴼC","t":104.5,"v":417},{"s":"175 ᴼC","t":106,"v":414},{"s":"175 ᴼC","t":107,"v":417},{"s":"175 ᴼC","t":108.5,"v":394},{"s":"175 ᴼC","t":110,"v":410},{"s":"175 ᴼC","t":112,"v":414},{"s":"175 ᴼC","t":113.5,"v":414},{"s":"175 ᴼC","t":115,"v":440},{"s":"175 ᴼC","t":116,"v":428},{"s":"175 ᴼC","t":117.5,"v":425},{"s":"175 ᴼC","t":118.5,"v":430},{"s":"175 ᴼC","t":120,"v":438},{"s":"175 ᴼC","t":122,"v":447},{"s":"175 ᴼC","t":123.5,"v":457},{"s":"175 ᴼC","t":125,"v":465},{"s":"175 ᴼC","t":126.5,"v":460},{"s":"175 ᴼC","t":128.5,"v":464},{"s":"175 ᴼC","t":130,"v":468},{"s":"175 ᴼC","t":131,"v":470},{"s":"175 ᴼC","t":132.5,"v":429},{"s":"175 ᴼC","t":134,"v":424},{"s":"175 ᴼC","t":135.5,"v":420},{"s":"175 ᴼC","t":137,"v":418},{"s":"175 ᴼC","t":138,"v":415},{"s":"175 ᴼC","t":140,"v":414},{"s":"175 ᴼC","t":141.5,"v":417},{"s":"175 ᴼC","t":143,"v":412},{"s":"175 ᴼC","t":145,"v":420},{"s":"175 ᴼC","t":147.5,"v":410},{"s":"175 ᴼC","t":149,"v":425},{"s":"175 ᴼC","t":150.5,"v":432},{"s":"175 ᴼC","t":151.5,"v":437},{"s":"175 ᴼC","t":153,"v":432},{"s":"175 ᴼC","t":155,"v":434},{"s":"175 ᴼC","t":157,"v":436},{"s":"175 ᴼC","t":158.5,"v":440},{"s":"175 ᴼC","t":160,"v":444},{"s":"175 ᴼC","t":161.5,"v":424},{"s":"175 ᴼC","t":163,"v":432},{"s":"175 ᴼC","t":164,"v":437},{"s":"175 ᴼC","t":166,"v":432},{"s":"175 ᴼC","t":168,"v":427},{"s":"175 ᴼC","t":170.5,"v":422},{"s":"175 ᴼC","t":171,"v":430},{"s":"175 ᴼC","t":172,"v":445},{"s":"175 ᴼC","t":174,"v":443},{"s":"175 ᴼC","t":176,"v":445},{"s":"175 ᴼC","t":178,"v":446},{"s":"175 ᴼC","t":179.5,"v":447},{"s":"175 ᴼC","t":181,"v":444},{"s":"175 ᴼC","t":183,"v":452},{"s":"175 ᴼC","t":184.5,"v":455},{"s":"175 ᴼC","t":186,"v":449},{"s":"175 ᴼC","t":188,"v":452},{"s":"175 ᴼC","t":189.5,"v":450},{"s":"175 ᴼC","t":191,"v":444},{"s":"175 ᴼC","t":192.5,"v":437},{"s":"175 ᴼC","t":194,"v":442},{"s":"175 ᴼC","t":196,"v":447},{"s":"175 ᴼC","t":197.5,"v":450},{"s":"175 ᴼC","t":199,"v":446},{"s":"175 ᴼC","t":201,"v":444},{"s":"175 ᴼC","t":202.5,"v":442},{"s":"175 ᴼC","t":204,"v":438},{"s":"175 ᴼC","t":206,"v":441},{"s":"175 ᴼC","t":207.5,"v":440},{"s":"175 ᴼC","t":209,"v":436},{"s":"175 ᴼC","t":211,"v":440},{"s":"175 ᴼC","t":213,"v":442},{"s":"175 ᴼC","t":214.5,"v":444},{"s":"175 ᴼC","t":216,"v":432},{"s":"175 ᴼC","t":218,"v":438},{"s":"175 ᴼC","t":220,"v":440},{"s":"175 ᴼC","t":222,"v":444},{"s":"175 ᴼC","t":224,"v":446},{"s":"175 ᴼC","t":226,"v":440},{"s":"175 ᴼC","t":227.5,"v":447},{"s":"175 ᴼC","t":229,"v":450},{"s":"175 ᴼC","t":230.5,"v":444},{"s":"175 ᴼC","t":232,"v":439},{"s":"175 ᴼC","t":234,"v":433},{"s":"175 ᴼC","t":235.5,"v":428},{"s":"175 ᴼC","t":237,"v":424},{"s":"175 ᴼC","t":239,"v":434},{"s":"175 ᴼC","t":240.5,"v":430},{"s":"175 ᴼC","t":242,"v":436},{"s":"175 ᴼC","t":244,"v":440},{"s":"175 ᴼC","t":245.5,"v":442},{"s":"175 ᴼC","t":246.5,"v":444}
]
},
"hconcat": [
{
  "width": 520, "height": 500,
  "resolve": {"axis": {"x": "independent"}},
  "layer": [
    {
      "data": {"name": "spec"},
      "mark": {"type": "line", "strokeWidth": 4, "interpolate": "monotone"},
      "encoding": {
        "x": {"field": "w", "type": "quantitative", "scale": {"domain": [900, 1600], "nice": false, "zero": false},
              "axis": {"title": "Raman shifts(cm⁻¹)", "orient": "bottom", "values": [900,1000,1100,1200,1300,1400,1500,1600], "format": "d",
                       "tickSize": -7, "labelPadding": 14, "titlePadding": 16}},
        "y": {"field": "i", "type": "quantitative", "scale": {"domain": [0, 500], "nice": false},
              "axis": {"title": "Intensity (a.u.)", "labels": false, "ticks": false, "titlePadding": 9}},
        "color": {"field": "s", "type": "nominal",
                  "scale": {"domain": ["20 sec","15 sec","10 sec","5 sec","1 sec","0 sec"], "range": ["#ff9900","#ff6410","#f5462a","#e8180c","#7d0a0a","#3a0606"]},
                  "legend": {"title": null, "orient": "top-left", "offset": 8, "symbolType": "stroke", "symbolSize": 2025, "symbolStrokeWidth": 5,
                             "labelFont": "Liberation Sans", "labelFontSize": 18, "labelFontWeight": "bold", "labelColor": "black", "labelOffset": 0,
                             "strokeColor": "#888888", "fillColor": "white", "padding": 2, "rowPadding": 0, "clipHeight": 23}}
      }
    },
    {
      "data": {"values": [{"w": 1139}]},
      "mark": {"type": "rule", "strokeDash": [14, 8], "strokeWidth": 3, "color": "black"},
      "encoding": {"x": {"field": "w", "type": "quantitative",
                         "axis": {"title": null, "orient": "bottom", "values": [950,1050,1150,1250,1350,1450,1550], "labels": false, "tickSize": -4}}}
    },
    {
      "data": {"values": [{"w": 1538, "i": 455, "lab": "A"}]},
      "mark": {"type": "text", "fontSize": 38, "fontWeight": "bold", "font": "Liberation Sans", "color": "black"},
      "encoding": {"x": {"field": "w", "type": "quantitative", "axis": null}, "y": {"field": "i", "type": "quantitative"}, "text": {"field": "lab"}}
    }
  ]
},
{
  "width": 517, "height": 505,
  "resolve": {"axis": {"x": "independent"}},
  "layer": [
    {
      "data": {"name": "pts"},
      "mark": {"type": "point", "shape": "triangle-up", "filled": true, "opacity": 1, "size": 100},
      "encoding": {
        "x": {"field": "t", "type": "quantitative", "scale": {"domain": [-5.5, 250.5], "nice": false, "zero": false},
              "axis": {"title": "Irradiation time (sec)", "orient": "bottom", "values": [0,50,100,150,200,250], "format": "d",
                       "tickSize": -7, "labelPadding": 14, "titlePadding": 14}},
        "y": {"field": "v", "type": "quantitative", "scale": {"domain": [0, 505], "nice": false},
              "axis": {"title": ["Integrated peak area", "1134 cm⁻¹"], "titleLineHeight": 32, "labels": false, "ticks": false, "titlePadding": 20}},
        "color": {"field": "s", "type": "nominal",
                  "scale": {"domain": ["25 ᴼC","75 ᴼC","100 ᴼC","150 ᴼC","175 ᴼC"], "range": ["#3d0505","#8b0b0b","#e3170a","#f63d1e","#ff6a00"]},
                  "legend": {"title": null, "orient": "top-left", "offset": 4, "symbolType": "triangle-up", "symbolSize": 60,
                             "labelFont": "Liberation Sans", "labelFontSize": 15, "labelFontWeight": "bold", "labelColor": "black", "labelOffset": 12,
                             "strokeColor": "#333333", "fillColor": "white", "padding": 4, "rowPadding": 0, "clipHeight": 20.5, "symbolOffset": 10}}
      }
    },
    {
      "data": {"values": [{"t": 229.7, "v": 472, "lab": "B"}]},
      "mark": {"type": "text", "fontSize": 38, "fontWeight": "bold", "font": "Liberation Sans", "color": "black"},
      "encoding": {"x": {"field": "t", "type": "quantitative",
                         "axis": {"title": null, "orient": "bottom", "values": [25,75,125,175,225], "labels": false, "tickSize": -4}},
                   "y": {"field": "v", "type": "quantitative"}, "text": {"field": "lab"}}
    }
  ]
}
]
}
